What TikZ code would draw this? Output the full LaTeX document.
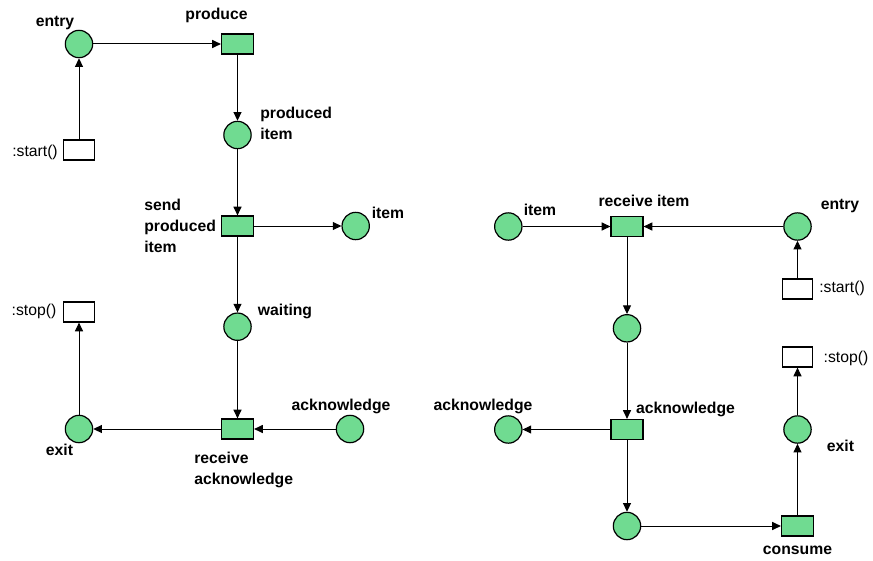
\documentclass[tikz,border=0pt]{standalone}
\usepackage{fontspec}
\setmainfont{Liberation Sans}
\usetikzlibrary{arrows.meta}
\definecolor{placegreen}{RGB}{112,219,145}
\tikzset{
	place/.style={circle, draw, line width=0.9pt, fill=placegreen, minimum size=20.5pt, inner sep=0pt},
	trans/.style={rectangle, draw, line width=0.9pt, fill=placegreen, minimum width=24pt, minimum height=15pt, inner sep=0pt},
	method/.style={rectangle, draw, line width=0.9pt, fill=white, minimum width=23pt, minimum height=15pt, inner sep=0pt},
	lbl/.style={font=\fontsize{11.8}{15.5}\selectfont\bfseries, inner sep=0pt, align=left},
	mlbl/.style={font=\fontsize{11.8}{15.5}\selectfont, inner sep=0pt},
	arr/.style={-{Triangle[length=6.5pt,width=6pt]}, line width=0.75pt}
}
\begin{document}
\begin{tikzpicture}[x=0.75pt, y=-0.75pt]
	\useasboundingbox (0,0) rectangle (873,560);
	% producer
	\node[place] (entryP) at (79,44) {};
	\node[trans] (produce) at (237.5,44) {};
	\node[method] (startP) at (79,150) {};
	\node[place] (produced) at (237.5,135) {};
	\node[trans] (send) at (237.5,226) {};
	\node[place] (itemP) at (355.7,226) {};
	\node[place] (waiting) at (237.5,326.7) {};
	\node[trans] (recack) at (237.5,429) {};
	\node[place] (ackP) at (350,429) {};
	\node[place] (exitP) at (79,429) {};
	\node[method] (stopP) at (79,312) {};
	\draw[arr] (entryP) -- (produce);
	\draw[arr] (startP) -- (entryP);
	\draw[arr] (produce) -- (produced);
	\draw[arr] (produced) -- (send);
	\draw[arr] (send) -- (itemP);
	\draw[arr] (send) -- (waiting);
	\draw[arr] (waiting) -- (recack);
	\draw[arr] (ackP) -- (recack);
	\draw[arr] (recack) -- (exitP);
	\draw[arr] (exitP) -- (stopP);
	\node[lbl] at (55,23) {entry};
	\node[lbl] at (216.5,15.5) {produce};
	\node[lbl, anchor=west] at (260,123.5) {produced\\item};
	\node[lbl, anchor=west] at (144,226) {send\\produced\\item};
	\node[lbl] at (388,213) {item};
	\node[lbl] at (285,311) {waiting};
	\node[lbl] at (341,406) {acknowledge};
	\node[lbl, anchor=west] at (194,470) {receive\\acknowledge};
	\node[lbl] at (59.5,450) {exit};
	\node[mlbl] at (35,152) {:start()};
	\node[mlbl] at (34,311) {:stop()};
	% consumer
	\node[place] (itemC) at (508.3,226.5) {};
	\node[trans] (recitem) at (627,226.5) {};
	\node[place] (entryC) at (797.5,226.5) {};
	\node[method] (startC) at (797.5,289) {};
	\node[place] (mid) at (627,328.3) {};
	\node[trans] (ackT) at (627,429.5) {};
	\node[place] (ackC) at (508.3,429.5) {};
	\node[place] (low) at (627,526) {};
	\node[trans] (consume) at (797.5,526) {};
	\node[place] (exitC) at (797.5,429.5) {};
	\node[method] (stopC) at (797.5,357) {};
	\draw[arr] (itemC) -- (recitem);
	\draw[arr] (entryC) -- (recitem);
	\draw[arr] (startC) -- (entryC);
	\draw[arr] (recitem) -- (mid);
	\draw[arr] (mid) -- (ackT);
	\draw[arr] (ackT) -- (ackC);
	\draw[arr] (ackT) -- (low);
	\draw[arr] (low) -- (consume);
	\draw[arr] (consume) -- (exitC);
	\draw[arr] (exitC) -- (stopC);
	\node[lbl] at (540,210) {item};
	\node[lbl] at (644,201) {receive item};
	\node[lbl] at (840,206) {entry};
	\node[lbl] at (483,406) {acknowledge};
	\node[lbl] at (685.5,409) {acknowledge};
	\node[lbl] at (840.5,446) {exit};
	\node[lbl] at (797.5,550) {consume};
	\node[mlbl] at (842,288) {:start()};
	\node[mlbl] at (846,358) {:stop()};
\end{tikzpicture}
\end{document}
